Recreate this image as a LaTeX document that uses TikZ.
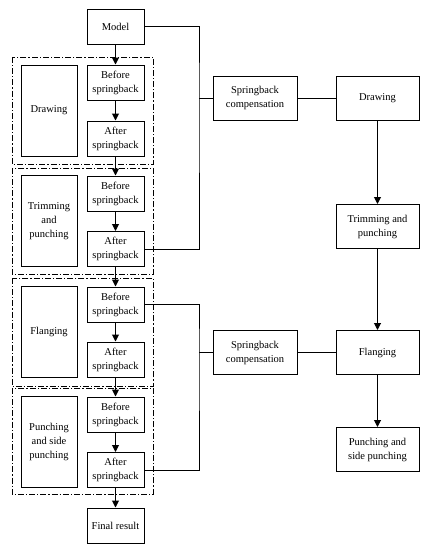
\documentclass[tikz,border=0pt]{standalone}
\usepackage{fontspec}
\setmainfont{Liberation Serif}
\usetikzlibrary{arrows.meta}
\begin{document}
\begin{tikzpicture}[x=1pt,y=-1pt,
  every node/.style={font=\fontsize{10.5}{14}\selectfont},
  box/.style={draw,line width=1pt,align=center,inner sep=1pt},
  midbox/.style={box,minimum width=57pt,minimum height=35pt},
  leftbox/.style={box,minimum width=56pt,minimum height=91pt},
  rightbox/.style={box,minimum width=83pt,minimum height=44pt},
  group/.style={draw,line width=1pt,dash pattern=on 6pt off 2pt on 1.2pt off 2pt},
  arr/.style={line width=1pt,-{Triangle[length=7pt,width=7pt]}},
  ln/.style={line width=1pt}]
\useasboundingbox (0,0) rectangle (426,550);
% group frames
\draw[group] (12,57) rectangle (153,164);
\draw[group] (12,168) rectangle (153,274);
\draw[group] (12,278) rectangle (153,386);
\draw[group] (12,388) rectangle (153,494);
% middle column
\node[midbox] (model) at (115.5,26.5) {Model};
\node[midbox] (b1) at (115.5,82.5) {Before\\springback};
\node[midbox] (a1) at (115.5,138.5) {After\\springback};
\node[midbox] (b2) at (115.5,193.5) {Before\\springback};
\node[midbox] (a2) at (115.5,249) {After\\springback};
\node[midbox] (b3) at (115.5,304.5) {Before\\springback};
\node[midbox] (a3) at (115.5,359.5) {After\\springback};
\node[midbox] (b4) at (115.5,414.5) {Before\\springback};
\node[midbox] (a4) at (115.5,470) {After\\springback};
\node[midbox] (final) at (115.5,525.5) {Final result};
% left column
\node[leftbox] (ldraw) at (49,110.5) {Drawing};
\node[leftbox] (ltrim) at (49,221) {Trimming\\and\\punching};
\node[leftbox] (lflang) at (49,331.5) {Flanging};
\node[leftbox] (lpunch) at (49,441.5) {Punching\\and side\\punching};
% compensation
\node[rightbox,minimum width=84pt] (sc1) at (255,98) {Springback\\compensation};
\node[rightbox,minimum width=84pt] (sc2) at (255,352.5) {Springback\\compensation};
% right column
\node[rightbox] (rdraw) at (377.5,98) {Drawing};
\node[rightbox] (rtrim) at (377.5,226.5) {Trimming and\\punching};
\node[rightbox] (rflang) at (377.5,352.5) {Flanging};
\node[rightbox] (rpunch) at (377.5,449.5) {Punching and\\side punching};
% junctions
\coordinate (j1) at (199,98);
\coordinate (j2) at (199,352.5);
% arrows middle
\draw[arr] (model) -- (b1);
\draw[arr] (b1) -- (a1);
\draw[arr] (a1) -- (b2);
\draw[arr] (b2) -- (a2);
\draw[arr] (a2) -- (b3);
\draw[arr] (b3) -- (a3);
\draw[arr] (a3) -- (b4);
\draw[arr] (b4) -- (a4);
\draw[arr] (a4) -- (final);
% feedback lines
\draw[ln] (model.east) -| (j1) |- (a2.east);
\draw[ln] (j1) -- (sc1.west);
\draw[ln] (sc1) -- (rdraw);
\draw[ln] (b3.east) -| (j2) |- (a4.east);
\draw[ln] (j2) -- (sc2.west);
\draw[ln] (sc2) -- (rflang);
% right arrows
\draw[arr] (rdraw) -- (rtrim);
\draw[arr] (rtrim) -- (rflang);
\draw[arr] (rflang) -- (rpunch);
\end{tikzpicture}
\end{document}
